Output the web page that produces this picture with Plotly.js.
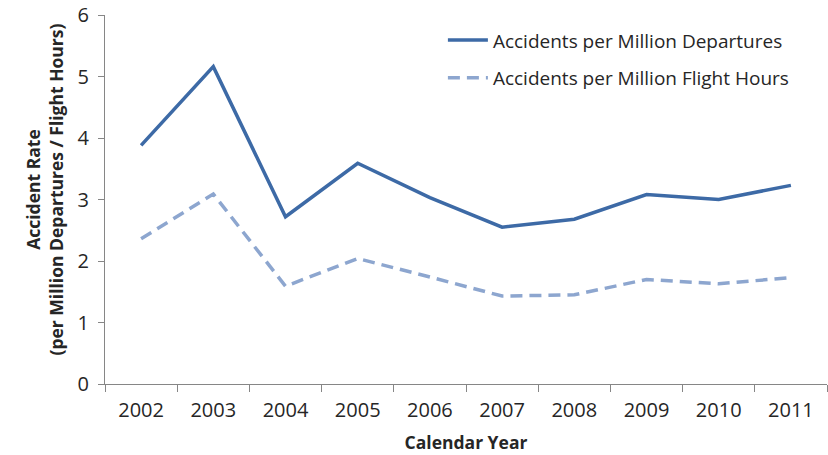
<!DOCTYPE html>
<html>
<head>
<meta charset="utf-8">
<script src="https://cdn.plot.ly/plotly-3.0.1.min.js"></script>
<style>html,body{margin:0;padding:0;background:#fff;}#chart{width:828px;height:455px;}</style>
</head>
<body>
<div id="chart"></div>
<script>
const years = ['2002','2003','2004','2005','2006','2007','2008','2009','2010','2011'];
const perDepartures = [3.88, 5.16, 2.72, 3.59, 3.03, 2.55, 2.68, 3.08, 3.00, 3.23];
const perFlightHours = [2.36, 3.09, 1.59, 2.04, 1.74, 1.43, 1.45, 1.70, 1.63, 1.73];
const yTicks = [0, 1, 2, 3, 4, 5, 6];

const FONT = 'Open Sans, Liberation Sans, sans-serif';
const traces = [
  {x: years, y: perDepartures, type: 'scatter', mode: 'lines', name: 'Accidents per Million Departures',
   legendgroup: 'a', line: {color: '#3D6AA6', width: 3.5}},
  {x: years, y: perFlightHours, type: 'scatter', mode: 'lines', name: 'Accidents per Million Flight Hours',
   legendgroup: 'b', line: {color: '#8DA6CF', width: 3.5, dash: '12px,7px'}}
];
const layout = {
  width: 828, height: 455,
  margin: {l: 105, r: 1, t: 15, b: 71},
  paper_bgcolor: '#fff', plot_bgcolor: '#fff',
  font: {family: FONT, color: '#262626', size: 19},
  showlegend: true,
  legend: {x: 0.468, y: 0.983, xanchor: 'left', yanchor: 'top', bgcolor: 'rgba(0,0,0,0)',
           font: {family: FONT, size: 19, color: '#262626'}, tracegroupgap: 10, itemwidth: 40},
  xaxis: {type: 'category', range: [-0.5, 9.5], showline: true, linecolor: '#868686', linewidth: 1,
          ticks: 'outside', tickson: 'boundaries', ticklen: 7, tickcolor: '#868686', showgrid: false,
          zeroline: false, tickfont: {family: FONT, size: 20, color: '#262626'}, ticklabelstandoff: 8,
          title: {text: '<b>Calendar Year</b>', font: {family: FONT, size: 17.5, color: '#262626'}, standoff: 14}},
  yaxis: {range: [0, 6], tickvals: yTicks, showline: true, linecolor: '#868686', linewidth: 1,
          ticks: 'outside', ticklen: 6, tickcolor: '#868686', showgrid: false, zeroline: false,
          tickfont: {family: FONT, size: 20, color: '#262626'}, ticklabelstandoff: 5},
  annotations: [{
    text: '<b>Accident Rate</b><br><b>(per Million Departures / Flight Hours)</b>',
    xref: 'paper', yref: 'paper', x: 0, y: 0.527, xanchor: 'center', yanchor: 'middle',
    xshift: -60, textangle: -90, showarrow: false,
    font: {family: FONT, size: 17.5, color: '#262626'}
  }]
};
Plotly.newPlot('chart', traces, layout, {displayModeBar: false, staticPlot: true});
</script>
</body>
</html>
